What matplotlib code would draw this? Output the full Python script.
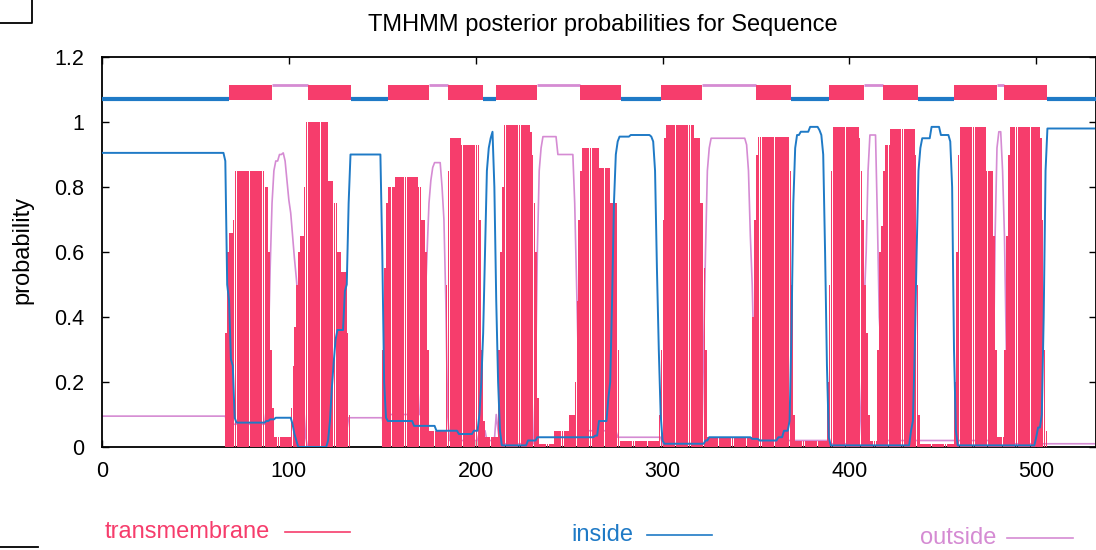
import numpy as np
import matplotlib
matplotlib.use("Agg")
import matplotlib.pyplot as plt
from matplotlib.lines import Line2D

plt.rcParams['font.family'] = ['Liberation Sans', 'DejaVu Sans']

seq_len = 532

# posterior probabilities, run-length coded: residue where a level starts, level
tm_start = [0, 66, 67, 68, 70, 71, 87, 89, 90, 91, 92, 101, 102, 103, 104, 105, 106, 108, 109,
            121, 124, 126, 128, 131, 132, 133, 150, 151, 152, 153, 157, 169, 171, 173, 174, 175,
            184, 185, 186, 192, 202, 203, 204, 205, 212, 213, 214, 215, 229, 230, 231, 232, 233,
            234, 242, 250, 253, 254, 255, 256, 257, 266, 272, 276, 277, 298, 299, 300, 301, 302,
            317, 320, 322, 323, 324, 348, 349, 350, 351, 368, 369, 370, 371, 388, 389, 390, 391,
            405, 406, 407, 408, 409, 410, 411, 415, 416, 417, 418, 419, 422, 435, 436, 437, 438,
            456, 457, 458, 459, 473, 477, 478, 479, 483, 484, 485, 486, 502, 503, 504, 505, 506]
tm_level = [0.0, 0.35, 0.6, 0.66, 0.7, 0.85, 0.8, 0.6, 0.3, 0.12, 0.03, 0.12, 0.25, 0.37, 0.5, 0.6, 0.65, 0.8, 1.0,
            0.82, 0.75, 0.6, 0.54, 0.35, 0.1, 0.0, 0.3, 0.55, 0.75, 0.8, 0.83, 0.8, 0.7, 0.6, 0.3, 0.05,
            0.5, 0.85, 0.95, 0.93, 0.7, 0.3, 0.08, 0.03, 0.3, 0.6, 0.8, 0.99, 0.97, 0.9, 0.75, 0.6, 0.15,
            0.01, 0.05, 0.1, 0.2, 0.45, 0.7, 0.85, 0.92, 0.86, 0.75, 0.3, 0.02, 0.1, 0.3, 0.7, 0.95, 0.99,
            0.95, 0.75, 0.55, 0.3, 0.03, 0.4, 0.7, 0.9, 0.955, 0.85, 0.5, 0.1, 0.02, 0.2, 0.5, 0.85, 0.985,
            0.95, 0.85, 0.7, 0.5, 0.35, 0.1, 0.02, 0.3, 0.6, 0.68, 0.85, 0.93, 0.98, 0.9, 0.5, 0.1, 0.01,
            0.2, 0.6, 0.9, 0.985, 0.85, 0.65, 0.3, 0.03, 0.3, 0.65, 0.9, 0.985, 0.95, 0.7, 0.3, 0.05, 0.0]

in_start = [0, 66, 67, 68, 69, 70, 71, 72, 88, 90, 93, 102, 103, 104, 105, 121, 122, 123, 124, 125,
            126, 130, 131, 132, 133, 150, 151, 152, 153, 167, 179, 191, 199, 202, 203, 204, 205, 206,
            207, 208, 209, 210, 211, 212, 213, 214, 228, 233, 264, 266, 271, 272, 273, 274, 275, 276,
            277, 283, 294, 295, 296, 297, 298, 299, 300, 301, 323, 325, 348, 352, 362, 365, 368, 369,
            370, 371, 372, 374, 379, 384, 385, 386, 387, 388, 389, 390, 433, 434, 435, 436, 437, 438,
            439, 444, 449, 454, 455, 456, 457, 458, 500, 501, 503, 504, 505, 506]
in_level = [0.905, 0.88, 0.5, 0.45, 0.27, 0.25, 0.09, 0.075, 0.08, 0.085, 0.09, 0.07, 0.04, 0.02, 0.0, 0.02, 0.08, 0.18, 0.26, 0.33,
            0.36, 0.48, 0.5, 0.75, 0.9, 0.6, 0.2, 0.09, 0.08, 0.065, 0.05, 0.04, 0.05, 0.1, 0.2, 0.35, 0.6, 0.85,
            0.92, 0.95, 0.97, 0.8, 0.45, 0.2, 0.05, 0.005, 0.02, 0.03, 0.035, 0.08, 0.15, 0.2, 0.45, 0.75, 0.9, 0.94,
            0.955, 0.96, 0.955, 0.94, 0.85, 0.55, 0.3, 0.1, 0.02, 0.01, 0.02, 0.03, 0.025, 0.02, 0.03, 0.05, 0.08, 0.35,
            0.75, 0.92, 0.96, 0.97, 0.985, 0.975, 0.96, 0.9, 0.6, 0.25, 0.03, 0.005, 0.05, 0.08, 0.3, 0.6, 0.85, 0.92,
            0.95, 0.985, 0.96, 0.94, 0.8, 0.3, 0.05, 0.005, 0.03, 0.06, 0.1, 0.4, 0.85, 0.98]

out_start = [0, 67, 88, 89, 90, 91, 92, 93, 95, 97, 98, 99, 100, 101, 102, 103, 104, 105, 106, 107,
             108, 109, 110, 131, 132, 151, 152, 171, 172, 173, 174, 175, 176, 177, 178, 182, 183, 184,
             185, 186, 202, 206, 211, 212, 213, 232, 233, 234, 235, 236, 244, 253, 254, 255, 256, 257,
             276, 300, 322, 323, 324, 325, 326, 345, 346, 347, 348, 349, 350, 351, 389, 406, 407, 408,
             409, 410, 411, 415, 416, 417, 418, 419, 420, 477, 478, 479, 480, 482, 483, 484, 485, 486]
out_level = [0.095, 0.07, 0.12, 0.3, 0.55, 0.75, 0.85, 0.88, 0.9, 0.905, 0.88, 0.82, 0.76, 0.72, 0.65, 0.58, 0.52, 0.45, 0.35, 0.25,
             0.12, 0.03, 0.0, 0.05, 0.09, 0.05, 0.1, 0.2, 0.3, 0.45, 0.6, 0.75, 0.82, 0.86, 0.875, 0.8, 0.7, 0.45,
             0.1, 0.02, 0.05, 0.02, 0.1, 0.05, 0.01, 0.2, 0.6, 0.85, 0.92, 0.955, 0.9, 0.75, 0.5, 0.25, 0.08, 0.05,
             0.03, 0.01, 0.3, 0.6, 0.85, 0.92, 0.95, 0.93, 0.85, 0.65, 0.5, 0.25, 0.05, 0.02, 0.01, 0.1, 0.25, 0.45,
             0.6, 0.85, 0.96, 0.7, 0.4, 0.3, 0.15, 0.05, 0.02, 0.2, 0.65, 0.92, 0.97, 0.85, 0.65, 0.3, 0.05, 0.01]

# predicted topology (start, end)
tm_segs = [(68, 91), (110, 133), (153, 175), (185, 204), (211, 233), (256, 278),
           (299, 321), (350, 369), (389, 408), (418, 437), (456, 479), (483, 506)]
in_segs = [(0, 68), (133, 153), (204, 211), (278, 299), (369, 389), (437, 456), (506, 532)]
out_segs = [(91, 110), (175, 185), (233, 256), (321, 350), (408, 418), (479, 483)]

red = '#f63d6c'
blue = '#1f7ac6'
violet = '#d58bd3'


def expand(starts, levels):
    counts = np.diff(starts + [seq_len])
    return np.repeat(levels, counts)


res = np.arange(seq_len)
tm = expand(tm_start, tm_level)
inside = expand(in_start, in_level)
outside = expand(out_start, out_level)

fig = plt.figure(figsize=(10.96, 5.5), dpi=100)
ax = fig.add_axes([102 / 1096, 1 - 447 / 550, 994 / 1096, 390 / 550])

ax.plot(res, outside, color=violet, lw=1.2, zorder=2)
ax.bar(res, tm, width=0.9, align='edge', color=red, linewidth=0, antialiased=False, zorder=3)
ax.plot(res, inside, color=blue, lw=1.4, zorder=4)

ax.broken_barh([(s, e - s) for s, e in tm_segs], (1.068, 0.046), facecolors=red, zorder=3)
ax.hlines([1.07] * len(in_segs), [s for s, e in in_segs], [e for s, e in in_segs],
          colors=blue, lw=3, zorder=4)
ax.hlines([1.113] * len(out_segs), [s for s, e in out_segs], [e for s, e in out_segs],
          colors=violet, lw=2, zorder=2)

ax.set_xlim(0, seq_len)
ax.set_ylim(0, 1.2)
ax.set_xticks([0, 100, 200, 300, 400, 500])
ax.set_yticks([0, 0.2, 0.4, 0.6, 0.8, 1.0, 1.2])
ax.set_yticklabels(['0', '0.2', '0.4', '0.6', '0.8', '1', '1.2'])
ax.tick_params(direction='in', top=True, right=True, length=5, width=1, labelsize=15.5)
ax.tick_params(axis='y', pad=13)
ax.tick_params(axis='x', pad=10)
for sp in ax.spines.values():
    sp.set_linewidth(1.3)

fig.text(603 / 1096, 1 - 25 / 550, 'TMHMM posterior probabilities for Sequence',
         ha='center', va='center', fontsize=17)
fig.text(22 / 1096, 1 - 250 / 550, 'probability', rotation=90, ha='center', va='center', fontsize=17)

# key below the plot
keys = [('transmembrane', red, 105, 285, 350, 532),
        ('inside', blue, 571, 647, 712, 535),
        ('outside', violet, 920, 1007, 1073, 538)]
for label, col, tx, x0, x1, y in keys:
    fig.text(tx / 1096, 1 - y / 550, label, color=col, ha='left', va='center', fontsize=17)
    fig.add_artist(Line2D([x0 / 1096, x1 / 1096], [1 - y / 550, 1 - y / 550], color=col, lw=1.2))

# scan marks at the corners
fig.add_artist(Line2D([0, 32 / 1096, 32 / 1096], [1 - 23 / 550, 1 - 23 / 550, 1], color='black', lw=1.3))
fig.add_artist(Line2D([0, 38 / 1096], [1 - 547 / 550, 1 - 547 / 550], color='black', lw=1.3))

fig.savefig('out.png', dpi=100)
